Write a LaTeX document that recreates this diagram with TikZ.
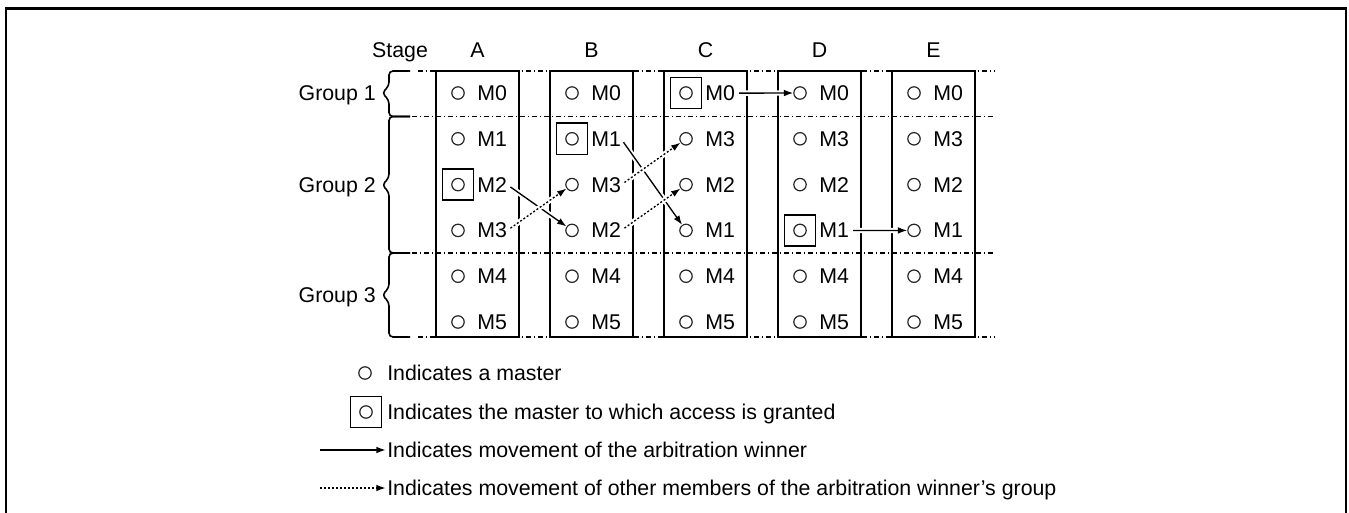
\documentclass[tikz,border=0pt]{standalone}
\usepackage{fontspec}
\setmainfont{Liberation Sans}
\usetikzlibrary{arrows.meta}
\begin{document}
\begin{tikzpicture}[x=0.75pt,y=-0.75pt,
  txt/.style={font=\fontsize{16}{19}\selectfont, inner sep=0pt},
  mlabel/.style={txt, anchor=base west},
  master/.style={circle, draw=black!85, line width=0.9pt, minimum size=9.3pt, inner sep=0pt},
  granted/.style={draw, line width=1.2pt, minimum size=23.5pt, inner sep=0pt},
  colbox/.style={line width=1.5pt},
  sepline/.style={line width=1.1pt, dash pattern=on 4pt off 2pt on 1pt off 2pt},
  halo/.style={preaction={draw=white, line width=4pt, arrows=-, solid}},
  winner/.style={halo, line width=1pt, -{Latex[length=7pt,width=5pt]}},
  follower/.style={halo, line width=1pt, dash pattern=on 1.5pt off 1.5pt, -{Latex[length=7pt,width=5pt]}},
  groupbrace/.style={line width=1.2pt, rounded corners=3pt}
]
\useasboundingbox (0,0) rectangle (1349,513);

% outer frame, open at the bottom
\draw[line width=2.2pt] (6,513) -- (6,8.5) -- (1346,8.5) -- (1346,513);

% group separators
\draw[sepline] (418,71) -- (995,71);
\draw[sepline] (412,116.5) -- (995,116.5);
\draw[sepline] (412,253) -- (995,253);
\draw[sepline] (418,337) -- (995,337);

% group braces
\foreach \t/\m/\b in {71/93/116.5, 116.5/185/253, 253/295/337}
  \draw[groupbrace] (410,\t) -- (389,\t) -- (389,\m-7) -- (382,\m) -- (389,\m+7) -- (389,\b) -- (410,\b);

\node[txt, anchor=base east] (g1) at (376,100.5) {Group 1};
\node[txt, anchor=base east] (g2) at (376,192.5) {Group 2};
\node[txt, anchor=base east] (g3) at (376,302.5) {Group 3};

\node[txt, anchor=base] (stage) at (400,57.5) {Stage};

% stage columns with the master order in each
\foreach \col/\lx/\labs in {A/436/{M0,M1,M2,M3,M4,M5},
                            B/550/{M0,M1,M3,M2,M4,M5},
                            C/664/{M0,M3,M2,M1,M4,M5},
                            D/778/{M0,M3,M2,M1,M4,M5},
                            E/892/{M0,M3,M2,M1,M4,M5}} {
  \node[txt, anchor=base] (s\col) at (\lx+41.5,57.5) {\col};
  \draw[colbox] (\lx,71) rectangle (\lx+83,337);
  \foreach \m [count=\row from 0] in \labs {
    \node[master] (c\col\row) at (\lx+22,93+45.8*\row) {};
    \node[mlabel] (t\col\row) at (\lx+41,100.5+45.8*\row) {\m};
  }
}

% masters granted access
\node[granted] (gA) at (cA2) {};
\node[granted] (gB) at (cB1) {};
\node[granted] (gC) at (cC0) {};
\node[granted] (gD) at (cD3) {};

% movements
\draw[winner, shorten <=3pt] (tA2.east) -- (cB3);
\draw[winner, shorten <=3pt] (tB1.east) -- (cC3);
\draw[winner, shorten <=3pt] (tC0.east) -- (cD0);
\draw[winner, shorten <=3pt] (tD3.east) -- (cE3);
\draw[follower, shorten <=3pt] (tA3.east) -- (cB2);
\draw[follower, shorten <=3pt] (tB2.east) -- (cC1);
\draw[follower, shorten <=3pt] (tB3.east) -- (cC2);

% legend
\node[master] (lc1) at (365,373) {};
\node[mlabel] (lt1) at (387,380.5) {Indicates a master};
\node[master] (lc2) at (366,412) {};
\node[granted] (lg2) at (lc2) {};
\node[mlabel] (lt2) at (387,419.5) {Indicates the master to which access is granted};
\coordinate (la3) at (320,450);
\node[mlabel] (lt3) at (387,457.5) {Indicates movement of the arbitration winner};
\coordinate (la4) at (320,488);
\node[mlabel] (lt4) at (387,495.5) {Indicates movement of other members of the arbitration winner’s group};
\draw[winner, shorten >=1pt] (la3) -- (la3 -| lt3.west);
\draw[follower, shorten >=1pt] (la4) -- (la4 -| lt4.west);
\end{tikzpicture}
\end{document}
